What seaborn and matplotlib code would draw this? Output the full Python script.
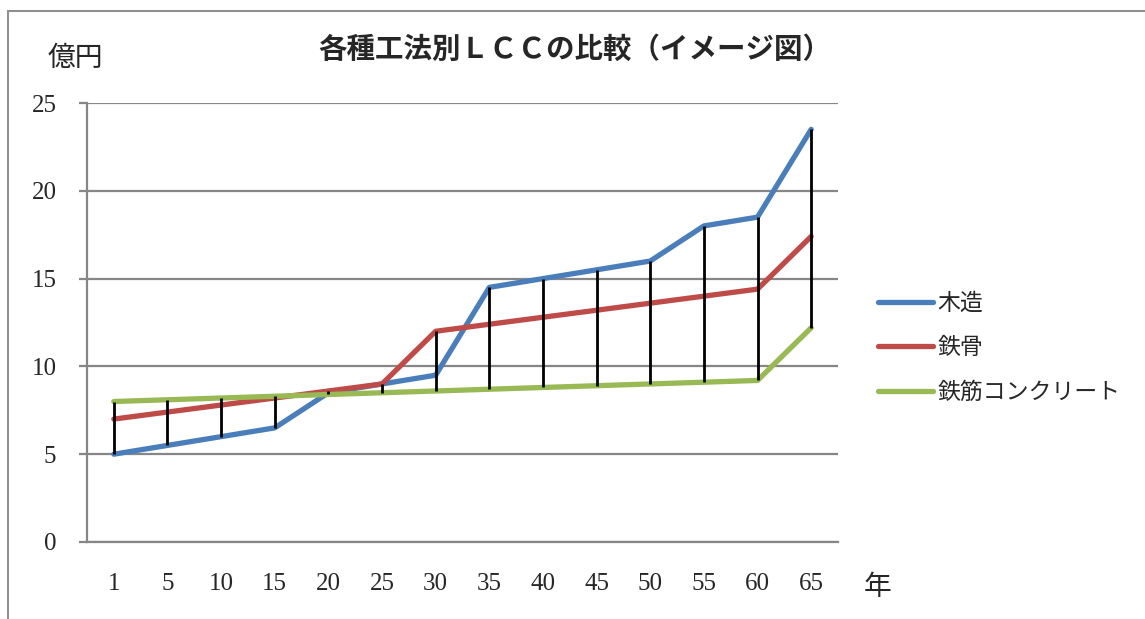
import matplotlib
matplotlib.use("Agg")
import matplotlib.pyplot as plt
import seaborn as sns
import pandas as pd
import numpy as np
from matplotlib.patches import Rectangle

years = ["1", "5", "10", "15", "20", "25", "30", "35", "40", "45", "50", "55", "60", "65"]
wood = [5.0, 5.5, 6.0, 6.5, 8.5, 9.0, 9.5, 14.5, 15.0, 15.5, 16.0, 18.0, 18.5, 23.5]
steel = [7.0, 7.4, 7.8, 8.2, 8.6, 9.0, 12.0, 12.4, 12.8, 13.2, 13.6, 14.0, 14.4, 17.4]
rc = [8.0, 8.1, 8.2, 8.3, 8.4, 8.5, 8.6, 8.7, 8.8, 8.9, 9.0, 9.1, 9.2, 12.2]
series_names = ["木造", "鉄骨", "鉄筋コンクリート"]
colors = ["#4A7EBB", "#BE4B48", "#98B954"]
title = "各種工法別ＬＣＣの比較（イメージ図）"
yticks = [0, 5, 10, 15, 20, 25]

sns.set_theme(style="white")
plt.rcParams['font.family'] = ['Liberation Serif', 'Noto Sans CJK JP', 'DejaVu Sans']

df = pd.DataFrame({
    "year": years * 3,
    "value": wood + steel + rc,
    "series": [series_names[0]] * 14 + [series_names[1]] * 14 + [series_names[2]] * 14,
})

fig = plt.figure(figsize=(11.45, 6.19), dpi=100)
ax = fig.add_axes([87 / 1145, 1 - 542 / 619, (838 - 87) / 1145, (542 - 103) / 619])

# high-low lines
pos = np.arange(len(years))
arr = np.array([wood, steel, rc])
ax.vlines(pos, arr.min(axis=0), arr.max(axis=0), color="black", lw=2, zorder=3)

sns.lineplot(data=df, x="year", y="value", hue="series", palette=colors,
             linewidth=3.8, ax=ax, sort=False, legend=True, zorder=2,
             solid_capstyle="round")

ax.set_xlim(-0.5, len(years) - 0.5)
ax.set_ylim(0, 25)
ax.set_yticks(yticks)
ax.set_xticks(pos)
ax.set_xticklabels(years)
ax.yaxis.grid(True, color="#868686", lw=1.6)
ax.set_axisbelow(True)
for s in ["top", "right"]:
    ax.spines[s].set_visible(False)
for s in ["left", "bottom"]:
    ax.spines[s].set_color("#868686")
    ax.spines[s].set_linewidth(1.6)
ax.tick_params(axis="y", length=6, width=1.6, color="#868686", left=True, pad=16)
ax.tick_params(axis="x", length=0, pad=22)
for lab in ax.get_xticklabels() + ax.get_yticklabels():
    lab.set_fontsize(18)
ax.set_xlabel("")
ax.set_ylabel("")

leg = ax.legend(loc="center left", bbox_to_anchor=(878 / 1145, 1 - 348 / 619),
                bbox_transform=fig.transFigure, frameon=False,
                borderaxespad=0, borderpad=0,
                handlelength=2.4, handletextpad=0.2, labelspacing=0.95,
                prop={"family": "Noto Sans CJK JP", "size": 16.5})
for line in leg.get_lines():
    line.set_linewidth(3.8)
    line.set_solid_capstyle("round")

fig.text(575 / 1145, 1 - 50 / 619, title, ha="center", va="center",
         fontsize=20.5, fontweight="bold", family="Noto Sans CJK JP")
fig.text(75 / 1145, 1 - 58 / 619, "億円", ha="center", va="center",
         fontsize=20, family="Noto Sans CJK JP")
fig.text(878 / 1145, 1 - 587 / 619, "年", ha="center", va="center",
         fontsize=20, family="Noto Sans CJK JP")

fig.patches.append(Rectangle((8 / 1145, -0.1), 1.2, 1 - 11 / 619 + 0.1,
                             transform=fig.transFigure, fill=False,
                             edgecolor="#909090", lw=1.5))

fig.savefig("out.png", dpi=100)
